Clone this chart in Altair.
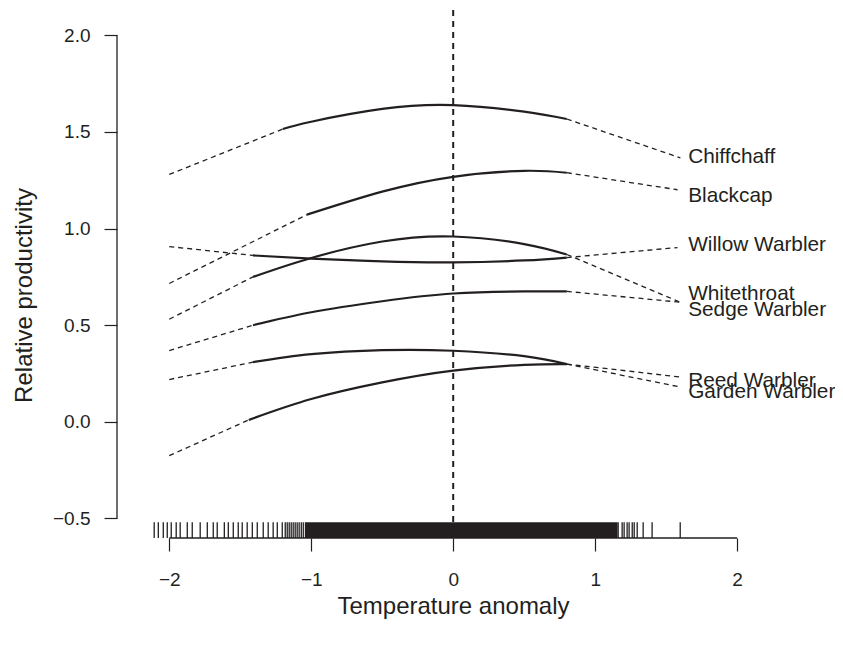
import altair as alt
import pandas as pd

INK = "#231f20"
FONT = "Liberation Sans"

species = ["Chiffchaff", "Blackcap", "Willow Warbler", "Whitethroat",
           "Sedge Warbler", "Reed Warbler", "Garden Warbler"]

# observed (solid) part of each fitted curve
chiffchaff_x = [-1.20, -1.0, -0.5, 0.0, 0.5, 0.8]
chiffchaff_y = [1.515, 1.553, 1.619, 1.639, 1.605, 1.567]
blackcap_x = [-1.03, -0.5, 0.0, 0.5, 0.8]
blackcap_y = [1.072, 1.191, 1.268, 1.299, 1.289]
willow_x = [-1.41, -1.0, -0.5, 0.0, 0.5, 0.8]
willow_y = [0.861, 0.845, 0.830, 0.825, 0.835, 0.850]
whitethroat_x = [-1.41, -1.0, -0.5, 0.0, 0.5, 0.8]
whitethroat_y = [0.750, 0.848, 0.933, 0.959, 0.920, 0.866]
sedge_x = [-1.41, -1.0, -0.5, 0.0, 0.5, 0.8]
sedge_y = [0.500, 0.567, 0.624, 0.664, 0.675, 0.675]
reed_x = [-1.41, -1.0, -0.5, 0.0, 0.5, 0.8]
reed_y = [0.309, 0.350, 0.371, 0.368, 0.340, 0.299]
garden_x = [-1.44, -1.0, -0.5, 0.0, 0.5, 0.8]
garden_y = [0.010, 0.118, 0.204, 0.265, 0.295, 0.299]

solid_x = [chiffchaff_x, blackcap_x, willow_x, whitethroat_x, sedge_x, reed_x, garden_x]
solid_y = [chiffchaff_y, blackcap_y, willow_y, whitethroat_y, sedge_y, reed_y, garden_y]

# dashed extrapolation to the left (start at x = -2)
left_x = -2.0
left_y = [1.280, 0.716, 0.907, 0.531, 0.369, 0.219, -0.175]
# dashed leader to the label on the right
end_x = [1.60, 1.58, 1.58, 1.60, 1.60, 1.60, 1.60]
end_y = [1.366, 1.201, 0.902, 0.619, 0.619, 0.232, 0.180]
# label positions
label_x = 1.655
label_y = [1.369, 1.168, 0.915, 0.662, 0.579, 0.213, 0.155]

# rug of observed temperature anomalies (individual ticks) and the solid dense block
rug_x = [-2.106, -2.077, -2.042, -2.014, -1.986, -1.951, -1.923, -1.873, -1.838,
         -1.782, -1.732, -1.690, -1.662, -1.612, -1.584, -1.549, -1.514, -1.486,
         -1.451, -1.415, -1.380, -1.338, -1.303, -1.268, -1.239, -1.204, -1.183,
         -1.169, -1.155, -1.141, -1.127, -1.113, -1.099, -1.085, -1.070, -1.056,
         1.162, 1.190, 1.204, 1.225, 1.239, 1.261, 1.275, 1.296, 1.338, 1.401, 1.599]
rug_dense_from = [-1.045]
rug_dense_to = [1.158]

x_ticks = [-2, -1, 0, 1, 2]
y_ticks = [-0.5, 0.0, 0.5, 1.0, 1.5, 2.0]

X_LO, X_HI = -2.368, 2.168
Y_LO, Y_HI = -0.601, 2.131
RUG_TOP = Y_LO + 0.03 * (Y_HI - Y_LO)

# ---------- tables ----------
solid_rows = []
for s, xs, ys in zip(species, solid_x, solid_y):
    for xv, yv in zip(xs, ys):
        solid_rows.append({"species": s, "x": xv, "y": yv})
solid_df = pd.DataFrame(solid_rows)

dash_rows = []
for s, xs, ys, ly, ex, ey in zip(species, solid_x, solid_y, left_y, end_x, end_y):
    dash_rows += [
        {"seg": s + "_L", "x": left_x, "y": ly},
        {"seg": s + "_L", "x": xs[0], "y": ys[0]},
        {"seg": s + "_R", "x": xs[-1], "y": ys[-1]},
        {"seg": s + "_R", "x": ex, "y": ey},
    ]
dash_df = pd.DataFrame(dash_rows)

label_df = pd.DataFrame({"species": species, "x": [label_x] * len(species), "y": label_y})
rug_df = pd.DataFrame({"x": rug_x})
dense_df = pd.DataFrame({"x": rug_dense_from, "x2": rug_dense_to})

xscale = alt.Scale(domain=[X_LO, X_HI], nice=False, zero=False)
yscale = alt.Scale(domain=[Y_LO, Y_HI], nice=False, zero=False)

xaxis = alt.Axis(
    values=x_ticks, format="d", domain=False, grid=False,
    tickSize=13, tickWidth=1.2, tickColor=INK,
    labelFont=FONT, labelFontSize=19, labelColor=INK, labelPadding=34,
    labelBaseline="alphabetic", labelFlush=False, labelOverlap=False,
    title="Temperature anomaly", titleFont=FONT, titleFontSize=24,
    titleFontWeight="normal", titleColor=INK, titleX=336, titleY=75,
    titleAlign="center", titleBaseline="alphabetic",
)
yaxis = alt.Axis(
    values=y_ticks, format=".1f", domain=False, grid=False,
    tickSize=13, tickWidth=1.2, tickColor=INK,
    labelFont=FONT, labelFontSize=19, labelColor=INK, labelPadding=14,
    labelAlign="right", labelBaseline="middle", labelFlush=False, labelOverlap=False,
    title="Relative productivity", titleFont=FONT, titleFontSize=24,
    titleFontWeight="normal", titleColor=INK, titleX=-86, titleY=285,
    titleAngle=270, titleAlign="center", titleBaseline="alphabetic",
)

solid = alt.Chart(solid_df).mark_line(
    interpolate="natural", strokeWidth=2.2, color=INK
).encode(
    x=alt.X("x:Q", scale=xscale, axis=xaxis),
    y=alt.Y("y:Q", scale=yscale, axis=yaxis),
    detail="species:N",
)

dashed = alt.Chart(dash_df).mark_line(
    strokeWidth=1.3, strokeDash=[5, 4], color=INK
).encode(x="x:Q", y="y:Q", detail="seg:N")

vline = alt.Chart(pd.DataFrame({"x": [0.0]})).mark_rule(
    strokeWidth=2, strokeDash=[6, 5], color=INK
).encode(x="x:Q")

labels = alt.Chart(label_df).mark_text(
    align="left", baseline="middle", font=FONT, fontSize=20.8, color=INK
).encode(x="x:Q", y="y:Q", text="species:N")

rug = alt.Chart(rug_df).mark_rule(strokeWidth=1.3, color=INK).encode(
    x="x:Q", y=alt.datum(Y_LO), y2=alt.datum(RUG_TOP)
)
dense = alt.Chart(dense_df).mark_rect(color=INK).encode(
    x="x:Q", x2="x2:Q", y=alt.datum(Y_LO), y2=alt.datum(RUG_TOP)
)

x_axis_line = alt.Chart(pd.DataFrame({"x": [x_ticks[0]], "x2": [x_ticks[-1]]})).mark_rule(
    strokeWidth=1.3, color=INK
).encode(x="x:Q", x2="x2:Q", y=alt.datum(Y_LO))
y_axis_line = alt.Chart(pd.DataFrame({"y": [y_ticks[0]], "y2": [y_ticks[-1]]})).mark_rule(
    strokeWidth=1.3, color=INK
).encode(y="y:Q", y2="y2:Q", x=alt.datum(X_LO))

chart = alt.layer(
    solid, dashed, vline, labels, rug, dense, x_axis_line, y_axis_line
).properties(
    width=644, height=528,
    autosize=alt.AutoSizeParams(type="none"),
    padding={"left": 109, "top": 2, "right": 74, "bottom": 100},
    background="white",
).configure_view(stroke=None)

chart.save("out.html", embed_options={"renderer": "svg", "actions": False})
